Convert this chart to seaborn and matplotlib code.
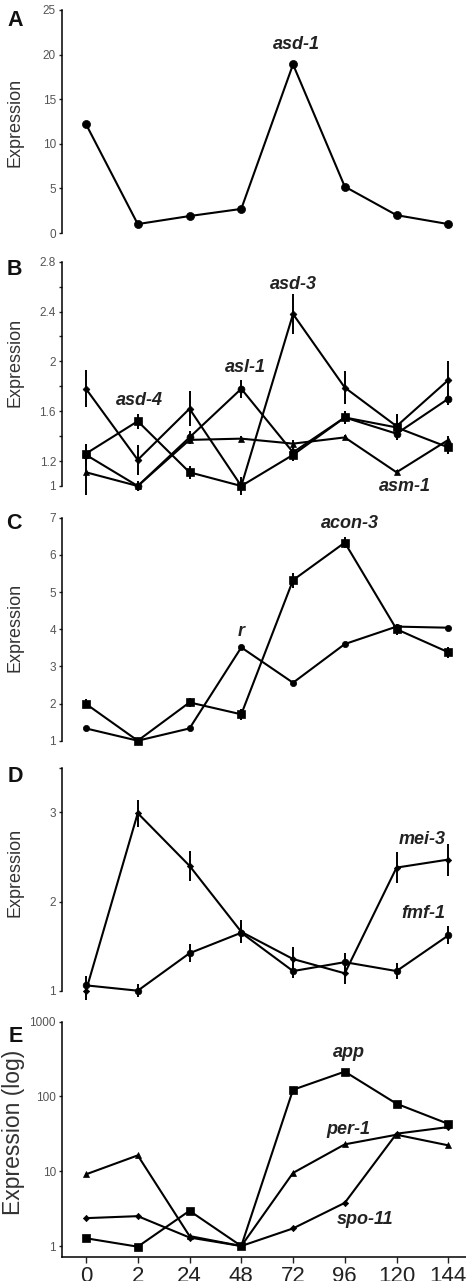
import numpy as np
import matplotlib
matplotlib.use("Agg")
import matplotlib.pyplot as plt
import seaborn as sns

# time points (hours)
hours = ["0", "2", "24", "48", "72", "96", "120", "144"]

# panel A
asd1 = [12.2, 1.0, 1.9, 2.7, 18.9, 5.2, 2.0, 1.0]

# panel B
asd3 = [1.78, 1.21, 1.62, 1.00, 2.38, 1.79, 1.48, 1.85]
asd3_err = [0.15, 0.12, 0.14, 0.07, 0.16, 0.13, 0.10, 0.15]
asd4 = [1.26, 1.52, 1.11, 1.00, 1.25, 1.55, 1.47, 1.31]
asd4_err = [0.08, 0.06, 0.05, 0.05, 0.05, 0.05, 0.10, 0.05]
asl1 = [1.25, 1.00, 1.39, 1.78, 1.27, 1.55, 1.42, 1.70]
asl1_err = [0.08, 0.04, 0.05, 0.07, 0.05, 0.05, 0.05, 0.05]
asm1 = [1.11, 1.00, 1.37, 1.38, 1.34, 1.39, 1.11, 1.37]
asm1_err = [0.18, 0.02, 0.03, 0.02, 0.03, 0.02, 0.02, 0.03]

# panel C
r_gene = [1.33, 1.00, 1.33, 3.51, 2.56, 3.60, 4.07, 4.04]
acon3 = [1.99, 1.00, 2.03, 1.71, 5.32, 6.33, 4.00, 3.38]
acon3_err = [0.12, 0.05, 0.12, 0.15, 0.20, 0.15, 0.15, 0.15]

# panel D
mei3 = [1.00, 2.99, 2.40, 1.66, 1.355, 1.195, 2.38, 2.47]
mei3_err = [0.10, 0.15, 0.17, 0.13, 0.13, 0.12, 0.17, 0.18]
fmf1 = [1.06, 1.00, 1.42, 1.65, 1.22, 1.32, 1.22, 1.62]
fmf1_err = [0.10, 0.07, 0.10, 0.10, 0.08, 0.10, 0.09, 0.10]

# panel E (log)
app = [1.27, 0.98, 2.96, 1.0, 123, 215, 80, 43]
per1 = [9.1, 16.3, 1.36, 1.0, 9.5, 22.9, 30.8, 22.2]
spo11 = [2.36, 2.51, 1.30, 1.0, 1.72, 3.78, 31.8, 39]

W, H = 466, 1281
sns.set_style("ticks")
plt.rcParams['font.family'] = ['Liberation Sans', 'DejaVu Sans']

fig = plt.figure(figsize=(W / 100, H / 100), dpi=100)
x = np.arange(len(hours))


def make_ax(top, bottom, right=466):
    ax = fig.add_axes([62 / W, 1 - bottom / H, (right - 62) / W, (bottom - top) / H])
    ax.set_xlim(-0.4637, 7.342)
    sns.despine(ax=ax, bottom=True)
    ax.spines['left'].set_linewidth(1.1)
    ax.spines['left'].set_color('black')
    ax.set_xticks([])
    ax.tick_params(axis='y', direction='out', length=2.5, width=1, color='#222',
                   labelsize=8.5, labelcolor='#555', pad=1.8)
    return ax


def series(ax, vals, marker, ms, err=None):
    sns.lineplot(x=x, y=vals, ax=ax, color='black', linewidth=1.5, marker=marker,
                 markersize=ms, markeredgecolor='black', markeredgewidth=0.5,
                 clip_on=False)
    if err is not None:
        ax.errorbar(x, vals, yerr=err, fmt='none', ecolor='black', elinewidth=1.4,
                    capsize=0, clip_on=False)


def ylab(ax, text, ycen, size=13, xc=15):
    ax.set_ylabel(text, fontsize=size, color='#333', va='center', ha='center')
    ax.yaxis.set_label_coords(xc / W, 1 - ycen / H, transform=fig.transFigure)


def letter(s, xc, yc):
    fig.text(xc / W, 1 - yc / H, s, fontsize=15.5, fontweight='bold', ha='center',
             va='center', color='#111')


def gene(ax, s, gx, gy):
    ax.text(gx, gy, s, fontsize=13, fontweight='bold', fontstyle='italic',
            ha='center', va='center', color='#222')


# A
axA = make_ax(10, 233)
series(axA, asd1, 'o', 5.8)
axA.set_ylim(0, 25)
axA.set_yticks([0, 5, 10, 15, 20, 25])
ylab(axA, 'Expression', 122)
gene(axA, 'asd-1', 4.06, 21.1)
letter('A', 15, 20)

# B
axB = make_ax(261.7, 486)
series(axB, asd3, 'D', 3.5, asd3_err)
series(axB, asd4, 's', 5.5, asd4_err)
series(axB, asl1, 'o', 5.0, asl1_err)
series(axB, asm1, '^', 4.5, asm1_err)
axB.set_ylim(1, 2.8)
bt = np.round(np.arange(1.0, 2.81, 0.2), 1)
axB.set_yticks(bt)
axB.set_yticklabels(['1', '1.2', '', '1.6', '', '2', '', '2.4', '', '2.8'])
ylab(axB, 'Expression', 362)
gene(axB, 'asd-3', 4.0, 2.62)
gene(axB, 'asl-1', 3.08, 1.95)
gene(axB, 'asd-4', 1.04, 1.69)
gene(axB, 'asm-1', 6.17, 0.995)
letter('B', 14.5, 269.5)

# C
axC = make_ax(517.7, 740.7)
series(axC, r_gene, 'o', 4.5)
series(axC, acon3, 's', 5.5, acon3_err)
axC.set_ylim(1, 7)
axC.set_yticks([1, 2, 3, 4, 5, 6, 7])
ylab(axC, 'Expression', 627)
gene(axC, 'acon-3', 5.1, 6.85)
gene(axC, 'r', 2.99, 3.93)
letter('C', 14, 523.5)

# D
axD = make_ax(767.7, 990.7)
series(axD, mei3, 'D', 3.2, mei3_err)
series(axD, fmf1, 'o', 4.8, fmf1_err)
axD.set_ylim(1, 3.5)
axD.set_yticks([1, 2, 3, 3.5])
axD.set_yticklabels(['1', '2', '3', ''])
ylab(axD, 'Expression', 872)
gene(axD, 'mei-3', 6.49, 2.69)
gene(axD, 'fmf-1', 6.51, 1.86)
letter('D', 15, 776)

# E
axE = make_ax(1021.7, 1256.7)
series(axE, app, 's', 5.5)
series(axE, per1, '^', 5.0)
series(axE, spo11, 'D', 3.2)
axE.set_yscale('log')
axE.set_ylim(0.72, 1000)
axE.set_yticks([1, 10, 100, 1000])
axE.set_yticklabels(['1', '10', '100', '1000'])
axE.minorticks_off()
sns.despine(ax=axE)
axE.spines['bottom'].set_linewidth(1.1)
axE.spines['bottom'].set_color('black')
axE.set_xticks(x)
axE.set_xticklabels(hours)
axE.tick_params(axis='x', direction='out', length=4, width=1, color='#222',
                labelsize=16, labelcolor='#222', pad=2.5)
ylab(axE, 'Expression (log)', 1132, size=16.5, xc=13.5)
gene(axE, 'app', 5.07, 390)
gene(axE, 'per-1', 5.07, 36)
gene(axE, 'spo-11', 5.4, 2.27)
letter('E', 15.5, 1037)

fig.savefig('out.png', dpi=100)
